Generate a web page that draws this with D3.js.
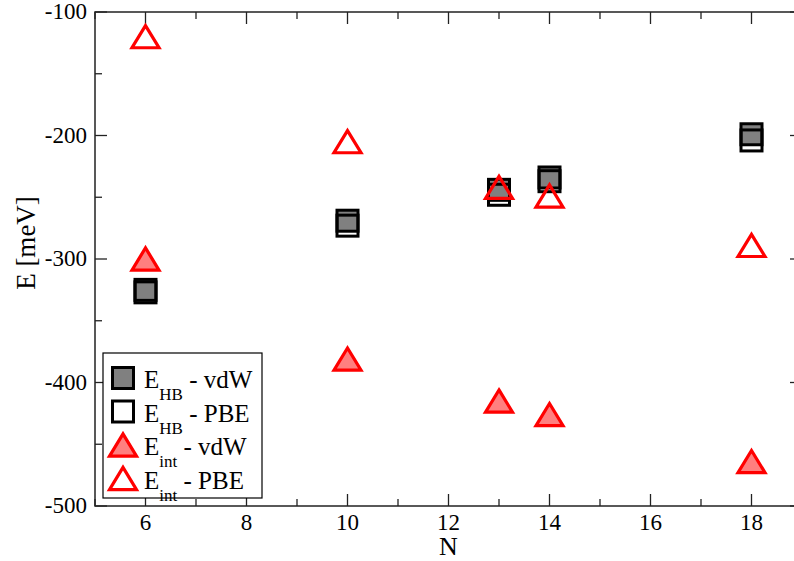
<!DOCTYPE html>
<html>
<head>
<meta charset="utf-8">
<script src="https://cdn.jsdelivr.net/npm/d3@7"></script>
<style>
  body { margin: 0; background: #fff; }
  svg { display: block; }
</style>
</head>
<body>
<div id="chart"></div>
<script>
// data
var nValues = [6, 10, 13, 14, 18];
var hbVdw = [-325, -269, -244, -234, -199];
var hbPbe = [-327, -273, -248, -237, -204];
var intVdw = [-300, -381, -415, -426, -464];
var intPbe = [-120, -205, -242, -249, -289];

var xTicks = [6, 8, 10, 12, 14, 16, 18];
var yTicks = [-500, -400, -300, -200, -100];

// 0.size
var svgW = 794, svgH = 561;
var plotL = 95, plotT = 12, plotB = 506, plotR = 802;

var x = d3.scaleLinear().domain([5, 19]).range([plotL, plotR]);
var y = d3.scaleLinear().domain([-500, -100]).range([plotB, plotT]);

var svg = d3.select("#chart").append("svg")
    .attr("width", svgW).attr("height", svgH)
    .style("font-family", "Liberation Serif");

// 1.frame and ticks
var axisColor = "#222";
svg.append("rect")
    .attr("x", plotL).attr("y", plotT)
    .attr("width", plotR - plotL).attr("height", plotB - plotT)
    .attr("fill", "none").attr("stroke", axisColor).attr("stroke-width", 1.5);

var xMinor = [5, 7, 9, 11, 13, 15, 17];
var yMinor = [-450, -350, -250, -150];

var ticks = svg.append("g").attr("stroke", axisColor).attr("stroke-width", 1.3);
function xTick(d, len) {
    ticks.append("line").attr("x1", x(d)).attr("x2", x(d)).attr("y1", plotB).attr("y2", plotB - len);
    ticks.append("line").attr("x1", x(d)).attr("x2", x(d)).attr("y1", plotT).attr("y2", plotT + len);
}
function yTick(d, len) {
    ticks.append("line").attr("x1", plotL).attr("x2", plotL + len).attr("y1", y(d)).attr("y2", y(d));
    ticks.append("line").attr("x1", plotR).attr("x2", plotR - len).attr("y1", y(d)).attr("y2", y(d));
}
xTicks.forEach(function(d) { xTick(d, 12); });
xMinor.forEach(function(d) { xTick(d, 7); });
yTicks.forEach(function(d) { yTick(d, 12); });
yMinor.forEach(function(d) { yTick(d, 7); });

// tick labels
svg.append("g").selectAll("text").data(xTicks).enter().append("text")
    .attr("x", function(d) { return x(d); })
    .attr("y", 530)
    .attr("text-anchor", "middle")
    .attr("font-size", 23)
    .text(function(d) { return d; });

svg.append("g").selectAll("text").data(yTicks).enter().append("text")
    .attr("x", 87)
    .attr("y", function(d) { return y(d) + 7; })
    .attr("text-anchor", "end")
    .attr("font-size", 23)
    .text(function(d) { return d; });

// axis titles
svg.append("text")
    .attr("x", x(12)).attr("y", 555)
    .attr("text-anchor", "middle").attr("font-size", 26)
    .text("N");
svg.append("text")
    .attr("transform", "translate(35,243) rotate(-90)")
    .attr("text-anchor", "middle").attr("font-size", 27)
    .text("E [meV]");

// 2.markers
var sq = 21, tri = 27;
function square(g, cx, cy, fill) {
    g.append("rect")
        .attr("x", cx - sq / 2).attr("y", cy - sq / 2)
        .attr("width", sq).attr("height", sq)
        .attr("fill", fill).attr("stroke", "#000").attr("stroke-width", 3);
}
function triangle(g, cx, cy, fill) {
    var h = tri * 0.82;
    var p = [[cx, cy - h / 2], [cx + tri / 2, cy + h / 2], [cx - tri / 2, cy + h / 2]];
    g.append("path")
        .attr("d", "M" + p.join("L") + "Z")
        .attr("fill", fill).attr("stroke", "#ff0000").attr("stroke-width", 3.2)
        .attr("stroke-linejoin", "miter");
}

var series = [
    { values: hbVdw, draw: square, fill: "#808080" },
    { values: hbPbe, draw: square, fill: "none" },
    { values: intVdw, draw: triangle, fill: "#ff7f7f" },
    { values: intPbe, draw: triangle, fill: "none" }
];

var marks = svg.append("g");
series.forEach(function(s) {
    var g = marks.append("g");
    nValues.forEach(function(n, i) {
        s.draw(g, x(n), y(s.values[i]), s.fill);
    });
});

// 3.legend
var legendItems = [
    { main: "E", sub: "HB", rest: " - vdW" },
    { main: "E", sub: "HB", rest: " - PBE" },
    { main: "E", sub: "int", rest: " - vdW" },
    { main: "E", sub: "int", rest: " - PBE" }
];
var legend = svg.append("g");
legend.append("rect")
    .attr("x", 103).attr("y", 353).attr("width", 159).attr("height", 145)
    .attr("fill", "#fff").attr("stroke", "#000").attr("stroke-width", 1.2);

legendItems.forEach(function(d, i) {
    var cy = 378 + i * 33.5;
    var s = series[i];
    s.draw(legend, 123, cy, s.fill);
    var t = legend.append("text").attr("x", 144).attr("y", cy + 10).attr("font-size", 25);
    t.append("tspan").text(d.main);
    t.append("tspan").attr("font-size", 17).attr("dy", 12).text(d.sub);
    t.append("tspan").attr("dy", -12).text(d.rest);
});
</script>
</body>
</html>
